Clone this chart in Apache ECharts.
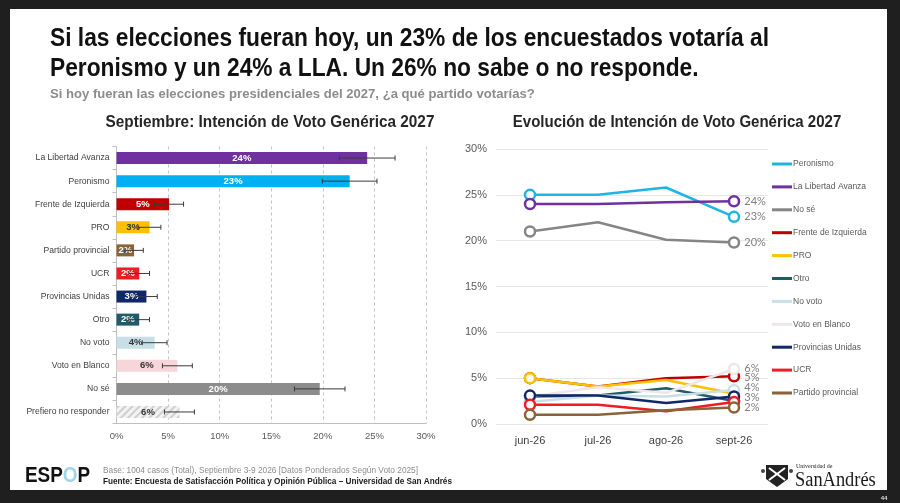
<!DOCTYPE html>
<html>
<head>
<meta charset="utf-8">
<script src="https://cdn.jsdelivr.net/npm/echarts@6/dist/echarts.min.js"></script>
<style>
  html, body { margin: 0; padding: 0; background: #1f1f1f; }
  #slide { position: absolute; left: 10px; top: 9px; width: 877px; height: 481px; background: #fff; }
  #chart { position: absolute; left: 0; top: 0; width: 900px; height: 503px; }
</style>
</head>
<body>
<div id="slide"></div>
<div id="chart"></div>
<script>
// --- data: left bar chart (September) ---
const barCats = ['La Libertad Avanza', 'Peronismo', 'Frente de Izquierda', 'PRO', 'Partido provincial', 'UCR',
  'Provincias Unidas', 'Otro', 'No voto', 'Voto en Blanco', 'No sé', 'Prefiero no responder'];
const barValues = [24.3, 22.6, 5.1, 3.2, 1.7, 2.2, 2.9, 2.2, 3.7, 5.9, 19.7, 6.1];
const barMoe = [2.7, 2.65, 1.4, 1.1, 0.9, 1.0, 1.05, 1.0, 1.2, 1.45, 2.45, 1.45];
const barTicks = [0, 5, 10, 15, 20, 25, 30];

// --- data: right line chart (evolution) ---
const months = ['jun-26', 'jul-26', 'ago-26', 'sept-26'];
const peronismo = [25.0, 25.0, 25.8, 22.6];
const lla = [24.0, 24.0, 24.2, 24.3];
const noSe = [21.0, 22.0, 20.1, 19.8];
const frente = [5.0, 4.1, 5.0, 5.2];
const pro = [5.0, 4.1, 4.8, 3.3];
const otro = [3.0, 3.1, 3.9, 2.5];
const noVoto = [2.4, 3.1, 3.0, 3.7];
const votoBlanco = [3.0, 4.0, 3.4, 6.0];
const provUnidas = [3.1, 3.1, 2.3, 3.0];
const ucr = [2.1, 2.1, 1.4, 2.4];
const partidoProv = [1.0, 1.0, 1.5, 1.8];

// styles
const FONT = '"Liberation Sans", Arial, sans-serif';
const barColors = ['#7030a0', '#00b0f0', '#c00000', '#ffc000', '#8c6239', '#ee1c24',
  '#10286a', '#215a69', '#c7e0e8', '#f6d6d9', '#8c8c8c', '#f3f3f3'];
const barLabelColors = ['#fff', '#fff', '#fff', '#333', '#fff', '#fff', '#fff', '#fff', '#333', '#333', '#fff', '#333'];

// label: end-point label shown or not, with a small vertical nudge so the cluster stays readable
const lineSeries = [
  { name: 'Peronismo', data: peronismo, color: '#1fb4e8', label: true, dy: 0 },
  { name: 'La Libertad Avanza', data: lla, color: '#7030a0', label: true, dy: 0 },
  { name: 'No sé', data: noSe, color: '#858585', label: true, dy: 0 },
  { name: 'Frente de Izquierda', data: frente, color: '#c00000', label: true, dy: 1 },
  { name: 'PRO', data: pro, color: '#ffc000', label: false, dy: 0 },
  { name: 'Otro', data: otro, color: '#215a69', label: false, dy: 0 },
  { name: 'No voto', data: noVoto, color: '#c9e0e6', label: true, dy: -3 },
  { name: 'Voto en Blanco', data: votoBlanco, color: '#efe6e8', label: true, dy: -1 },
  { name: 'Provincias Unidas', data: provUnidas, color: '#10286a', label: true, dy: 0.5 },
  { name: 'UCR', data: ucr, color: '#ee1c24', label: false, dy: 0 },
  { name: 'Partido provincial', data: partidoProv, color: '#8c6239', label: true, dy: 0 }
];

const pct = v => Math.round(v) + '%';

const chart = echarts.init(document.getElementById('chart'), null, { renderer: 'canvas' });

const barData = barValues.map((v, i) => ({
  value: v,
  itemStyle: i === barValues.length - 1
    ? { color: barColors[i], decal: { symbol: 'rect', symbolSize: 1, dashArrayX: [1, 0], dashArrayY: [1.5, 3], rotation: -Math.PI / 4, color: '#cfcfcf' } }
    : { color: barColors[i] },
  label: { color: barLabelColors[i] }
}));

const errData = barValues.map((v, i) => [i, v - barMoe[i], v + barMoe[i]]);

const option = {
  animation: false,
  textStyle: { fontFamily: FONT },
  graphic: [
    { type: 'text', x: 50, y: 24, scaleX: 0.91, style: { text: 'Si las elecciones fueran hoy, un 23% de los encuestados votaría al\nPeronismo y un 24% a LLA. Un 26% no sabe o no responde.', font: 'bold 25px ' + FONT, fill: '#111', lineHeight: 30 } },
    { type: 'text', x: 50, y: 87, scaleX: 0.97, style: { text: 'Si hoy fueran las elecciones presidenciales del 2027, ¿a qué partido votarías?', font: 'bold 13.5px ' + FONT, fill: '#8c8c8c' } },
    { type: 'text', x: 270, y: 122, scaleX: 0.93, style: { text: 'Septiembre: Intención de Voto Genérica 2027', font: 'bold 16.5px ' + FONT, fill: '#262626', align: 'center', verticalAlign: 'middle' } },
    { type: 'text', x: 677, y: 122, scaleX: 0.91, style: { text: 'Evolución de Intención de Voto Genérica 2027', font: 'bold 16.5px ' + FONT, fill: '#262626', align: 'center', verticalAlign: 'middle' } },
    // footer
    { type: 'text', x: 25, y: 476, scaleX: 0.86, style: { text: '{a|ESP}{b|O}{a|P}', verticalAlign: 'middle', rich: { a: { font: 'bold 22px ' + FONT, fill: '#111' }, b: { font: 'bold 22px ' + FONT, fill: '#9fd5e8' } } } },
    { type: 'text', x: 103, y: 471, style: { text: 'Base: 1004 casos (Total), Septiembre 3-9 2026 [Datos Ponderados Según Voto 2025]', font: '8.3px ' + FONT, fill: '#8c8c8c', verticalAlign: 'middle' } },
    { type: 'text', x: 103, y: 482, style: { text: 'Fuente: Encuesta de Satisfacción Política y Opinión Pública – Universidad de San Andrés', font: 'bold 8.2px ' + FONT, fill: '#1a1a1a', verticalAlign: 'middle' } },
    { type: 'group', x: 762, y: 463, children: [
      { type: 'polygon', shape: { points: [[4, 2], [26, 2], [26, 16], [15, 24], [4, 16]] }, style: { fill: '#222' } },
      { type: 'line', shape: { x1: 7, y1: 5, x2: 23, y2: 17 }, style: { stroke: '#fff', lineWidth: 2 } },
      { type: 'line', shape: { x1: 23, y1: 5, x2: 7, y2: 17 }, style: { stroke: '#fff', lineWidth: 2 } },
      { type: 'circle', shape: { cx: 1, cy: 8, r: 2 }, style: { fill: '#444' } },
      { type: 'circle', shape: { cx: 29, cy: 8, r: 2 }, style: { fill: '#444' } }
    ] },
    { type: 'text', x: 796, y: 466, style: { text: 'Universidad de', font: '6px "Liberation Serif", serif', fill: '#222', verticalAlign: 'middle' } },
    { type: 'text', x: 795, y: 481, scaleX: 0.92, style: { text: 'SanAndrés', font: '20px "Liberation Serif", "DejaVu Serif", serif', fill: '#1a1a1a', verticalAlign: 'middle' } },
    { type: 'text', x: 884, y: 498, style: { text: '44', font: 'bold 6px sans-serif', fill: '#ddd', align: 'center', verticalAlign: 'middle' } }
  ],
  legend: {
    orient: 'vertical',
    left: 772,
    top: 158,
    padding: 0,
    icon: 'rect',
    itemWidth: 20,
    itemHeight: 3,
    itemGap: 10.9,
    textStyle: { fontFamily: FONT, fontSize: 8.5, color: '#595959', lineHeight: 12, padding: [0, 0, 0, -4] },
    data: lineSeries.map(s => ({ name: s.name, itemStyle: { color: s.color, borderWidth: 0 } }))
  },
  grid: [
    { left: 116.5, top: 146.5, width: 309.5, height: 277 },
    { left: 496, top: 149, width: 272, height: 275 }
  ],
  xAxis: [
    {
      type: 'value', gridIndex: 0, min: barTicks[0], max: barTicks[barTicks.length - 1], interval: barTicks[1] - barTicks[0],
      axisLine: { show: true, lineStyle: { color: '#bfbfbf' } },
      axisTick: { show: false },
      axisLabel: { formatter: '{value}%', fontSize: 9.5, color: '#595959', margin: 8 },
      splitLine: { show: true, lineStyle: { color: '#c4c4c4', type: [3, 3] } }
    },
    {
      type: 'category', gridIndex: 1, data: months, boundaryGap: true,
      axisLine: { show: false }, axisTick: { show: false },
      axisLabel: { fontSize: 11, color: '#404040', margin: 11 }
    }
  ],
  yAxis: [
    {
      type: 'category', gridIndex: 0, data: barCats, inverse: true,
      axisLine: { show: true, lineStyle: { color: '#bfbfbf' } },
      axisTick: { show: true, length: 4, lineStyle: { color: '#bfbfbf' } },
      axisLabel: { fontSize: 8.6, color: '#404040', margin: 7 }
    },
    {
      type: 'value', gridIndex: 1, min: 0, max: 30, interval: 5,
      axisLine: { show: false }, axisTick: { show: false },
      axisLabel: { formatter: '{value}%', fontSize: 11, color: '#595959', margin: 9 },
      splitLine: { lineStyle: { color: '#e6e6e6' } }
    }
  ],
  series: [
    {
      type: 'bar', xAxisIndex: 0, yAxisIndex: 0, data: barData, barWidth: 12,
      label: { show: true, position: 'inside', formatter: p => pct(p.value), fontFamily: FONT, fontWeight: 'bold', fontSize: 9.5 }
    },
    {
      type: 'custom', xAxisIndex: 0, yAxisIndex: 0, data: errData, z: 5,
      encode: { x: [1, 2], y: 0 },
      renderItem: (params, api) => {
        const a = api.coord([api.value(1), api.value(0)]);
        const b = api.coord([api.value(2), api.value(0)]);
        const st = { stroke: '#3a3a3a', lineWidth: 1 };
        return {
          type: 'group', children: [
            { type: 'line', shape: { x1: a[0], y1: a[1], x2: b[0], y2: b[1] }, style: st },
            { type: 'line', shape: { x1: a[0], y1: a[1] - 2.5, x2: a[0], y2: a[1] + 2.5 }, style: st },
            { type: 'line', shape: { x1: b[0], y1: b[1] - 2.5, x2: b[0], y2: b[1] + 2.5 }, style: st }
          ]
        };
      }
    }
  ].concat(lineSeries.map(s => {
    const last = s.data.length - 1;
    return {
      type: 'line', name: s.name, xAxisIndex: 1, yAxisIndex: 1,
      data: s.data.map((v, i) => (i === last && s.label) ? { value: v, label: { show: true, offset: [0, s.dy] } } : v),
      symbol: 'circle',
      symbolSize: (v, p) => (p.dataIndex === 0 || p.dataIndex === last) ? 10 : 0,
      lineStyle: { color: s.color, width: 2.5 },
      itemStyle: { color: '#fff', borderColor: s.color, borderWidth: 2.5 },
      label: { show: false, position: 'right', distance: 4, formatter: p => pct(p.value), fontFamily: 'Lato, sans-serif', fontSize: 11, color: '#7f7f7f' },
      emphasis: { disabled: true }
    };
  }))
};

chart.setOption(option);
</script>
</body>
</html>
